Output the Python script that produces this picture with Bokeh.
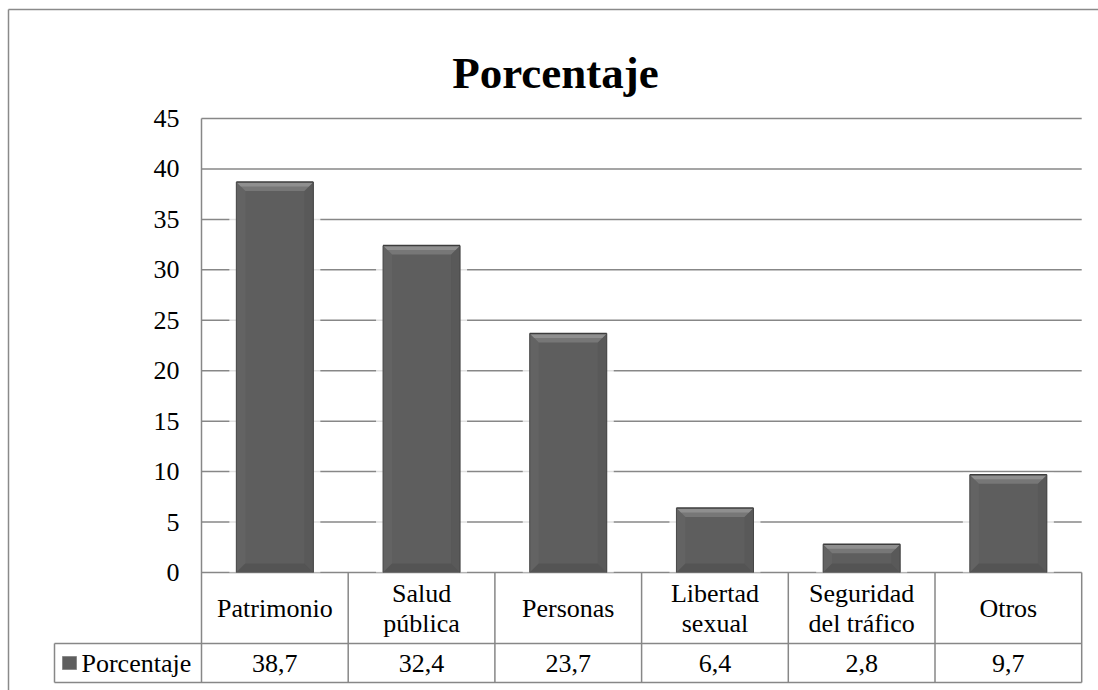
from bokeh.plotting import figure
from bokeh.models import Range1d
from bokeh.core.properties import value
from bokeh.embed import file_html
from bokeh.resources import INLINE

# ---------------- data ----------------
title_text = "Porcentaje"
series_name = "Porcentaje"
categories = ["Patrimonio", "Salud\npública", "Personas", "Libertad\nsexual",
              "Seguridad\ndel tráfico", "Otros"]
values = [38.7, 32.4, 23.7, 6.4, 2.8, 9.7]
y_ticks = [0, 5, 10, 15, 20, 25, 30, 35, 40, 45]
value_labels = [f"{v:.1f}".replace(".", ",") for v in values]

# ---------------- layout helpers (pixel -> data) ----------------
W, H = 1098, 690
PX_X0, PX_PER_X = 201.0, 146.7      # x data 0 at px 201, one category = 146.7 px
PX_Y0, PX_PER_Y = 572.0, 10.089     # y data 0 at px 572, one unit = 10.089 px


def dx(px):
    return (px - PX_X0) / PX_PER_X


def dy(py):
    return (PX_Y0 - py) / PX_PER_Y


TITLE_FONT = value("Liberation Serif")
FONT = value("serif")
FS = "26px"
GRID = "#878787"
n = len(categories)

p = figure(width=W, height=H, x_range=Range1d(dx(0), dx(W)), y_range=Range1d(dy(H), dy(0)),
           x_axis_type=None, y_axis_type=None, toolbar_location=None,
           output_backend="svg", min_border=0, outline_line_color=None,
           background_fill_color="white", border_fill_color="white")
p.grid.visible = False

# outer chart border
p.segment(x0=[dx(8), dx(8)], y0=[dy(9), dy(9)], x1=[dx(8), dx(W + 5)], y1=[dy(H + 5), dy(9)],
          line_color="#8a8a8a", line_width=1.5)

# title
p.text(x=[dx(555)], y=[dy(72)], text=[title_text], text_font=TITLE_FONT, text_font_size="45px",
       text_font_style="bold", text_align="center", text_baseline="alphabetic", text_color="black")

# horizontal gridlines
p.segment(x0=[0] * len(y_ticks), x1=[n] * len(y_ticks), y0=y_ticks, y1=y_ticks,
          line_color=GRID, line_width=1.5)

# y tick labels
p.text(x=[dx(179)] * len(y_ticks), y=y_ticks, text=[str(t) for t in y_ticks], text_font=FONT,
       text_font_size=FS, text_align="right", text_baseline="middle", text_color="black")

# bars with bevel
bw = 0.525
bx = 9 / PX_PER_X
by = 9 / PX_PER_Y
lefts = [i + 0.5 - bw / 2 for i in range(n)]
rights = [i + 0.5 + bw / 2 for i in range(n)]

# soft halo behind bars
hx = 7 / PX_PER_X
p.quad(left=[l - hx for l in lefts], right=[r + hx for r in rights], bottom=[0] * n,
       top=[v + 2 / PX_PER_Y for v in values], fill_color="white", fill_alpha=0.75, line_color=None)

p.quad(left=lefts, right=rights, bottom=[0] * n, top=values, fill_color="#5e5e5e", line_color=None)

top_xs, top_ys, top2_xs, top2_ys = [], [], [], []
bot_xs, bot_ys, lft_xs, lft_ys, rgt_xs, rgt_ys = [], [], [], [], [], []
for l, r, v in zip(lefts, rights, values):
    top_xs.append([l, r, r - bx, l + bx])
    top_ys.append([v, v, v - by, v - by])
    top2_xs.append([l, r, r - bx / 2, l + bx / 2])
    top2_ys.append([v, v, v - by / 2, v - by / 2])
    bot_xs.append([l, r, r - bx, l + bx])
    bot_ys.append([0, 0, by, by])
    lft_xs.append([l, l, l + bx, l + bx])
    lft_ys.append([0, v, v - by, by])
    rgt_xs.append([r, r, r - bx, r - bx])
    rgt_ys.append([0, v, v - by, by])

p.patches(xs=lft_xs, ys=lft_ys, fill_color="#636363", line_color=None)
p.patches(xs=rgt_xs, ys=rgt_ys, fill_color="#595959", line_color=None)
p.patches(xs=bot_xs, ys=bot_ys, fill_color="#545454", line_color=None)
p.patches(xs=top_xs, ys=top_ys, fill_color="#777777", line_color=None)
p.patches(xs=top2_xs, ys=top2_ys, fill_color="#8f8f8f", line_color=None)
# dark edges
p.segment(x0=lefts, x1=rights, y0=values, y1=values, line_color="#3c3c3c", line_width=1.5)
p.segment(x0=lefts, x1=lefts, y0=[0] * n, y1=values, line_color="#4a4a4a", line_width=1)
p.segment(x0=rights, x1=rights, y0=[0] * n, y1=values, line_color="#444444", line_width=1)

# axis line / table lines
row1_bottom = dy(643)
row2_bottom = dy(682)
p.segment(x0=[0], x1=[0], y0=[row2_bottom], y1=[y_ticks[-1]], line_color=GRID, line_width=1.5)
p.segment(x0=list(range(1, n + 1)), x1=list(range(1, n + 1)), y0=[row2_bottom] * n, y1=[0] * n,
          line_color=GRID, line_width=1.5)
p.segment(x0=[dx(54), dx(54)], x1=[n, n], y0=[row1_bottom, row2_bottom],
          y1=[row1_bottom, row2_bottom], line_color=GRID, line_width=1.5)
p.segment(x0=[dx(54)], x1=[dx(54)], y0=[row2_bottom], y1=[row1_bottom], line_color=GRID, line_width=1.5)

# category labels (multi-line handled line by line)
row1_mid = (0 + row1_bottom) / 2
line_gap = 15  # px
cx, cy, ctext, coff = [], [], [], []
for i, c in enumerate(categories):
    lines = c.split("\n")
    k = len(lines)
    for j, ln in enumerate(lines):
        cx.append(i + 0.5)
        cy.append(row1_mid)
        ctext.append(ln)
        coff.append((j - (k - 1) / 2) * 2 * line_gap)
p.text(x=cx, y=cy, text=ctext, y_offset=coff, text_font=FONT, text_font_size=FS,
       text_align="center", text_baseline="middle", text_color="black")

# value row
row2_mid = (row1_bottom + row2_bottom) / 2
p.text(x=[i + 0.5 for i in range(n)], y=[row2_mid] * n, text=value_labels, text_font=FONT,
       text_font_size=FS, text_align="center", text_baseline="middle", text_color="black")

# legend key + series name
p.quad(left=[dx(62)], right=[dx(76)], bottom=[dy(669)], top=[dy(656)], fill_color="#5e5e5e",
       line_color="#8a8a8a", line_width=1)
p.text(x=[dx(81)], y=[row2_mid], text=[series_name], text_font=FONT, text_font_size=FS,
       text_align="left", text_baseline="middle", text_color="black")

open("out.html", "w").write(file_html(p, INLINE))
